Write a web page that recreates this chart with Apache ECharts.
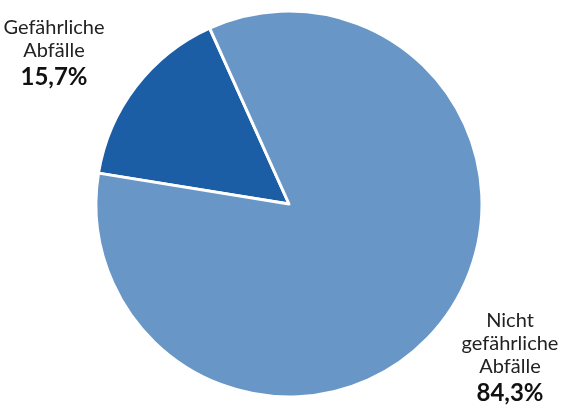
<!DOCTYPE html>
<html><head><meta charset="utf-8">
<script src="https://cdn.jsdelivr.net/npm/echarts@6/dist/echarts.min.js"></script>
<style>html,body{margin:0;padding:0;background:#fff}#c{width:566px;height:408px}</style>
</head><body><div id="c"></div>
<script>
const categories = ['Gefährliche\nAbfälle', 'Nicht\ngefährliche\nAbfälle'];
const values = [15.7, 84.3];
const valueLabels = ['15,7%', '84,3%'];
const colors = ['#1c5ea6', '#6896c6'];
const labelAnchors = [[54, 16], [510, 309]];

const chart = echarts.init(document.getElementById('c'), null, {renderer: 'canvas'});
chart.setOption({
  animation: false,
  series: [{
    type: 'pie',
    center: [289, 204],
    radius: [0, 193],
    startAngle: 170.8,
    clockwise: true,
    itemStyle: {borderColor: '#fff', borderWidth: 3},
    labelLine: {show: false},
    label: {
      show: true,
      position: 'outside',
      overflow: 'none',
      width: 200,
      formatter: p => '{n|' + p.name + '}\n{p|' + valueLabels[p.dataIndex] + '}',
      rich: {
        n: {fontFamily: 'Lato', fontSize: 20, lineHeight: 23, color: '#222', align: 'center'},
        p: {fontFamily: 'Lato', fontSize: 24, fontWeight: 'bold', lineHeight: 30, color: '#111', align: 'center'}
      }
    },
    labelLayout: p => ({x: labelAnchors[p.dataIndex][0], y: labelAnchors[p.dataIndex][1], align: 'center', verticalAlign: 'top'}),
    emphasis: {disabled: true},
    data: categories.map((c, i) => ({name: c, value: values[i], itemStyle: {color: colors[i]}}))
  }]
});
</script></body></html>
